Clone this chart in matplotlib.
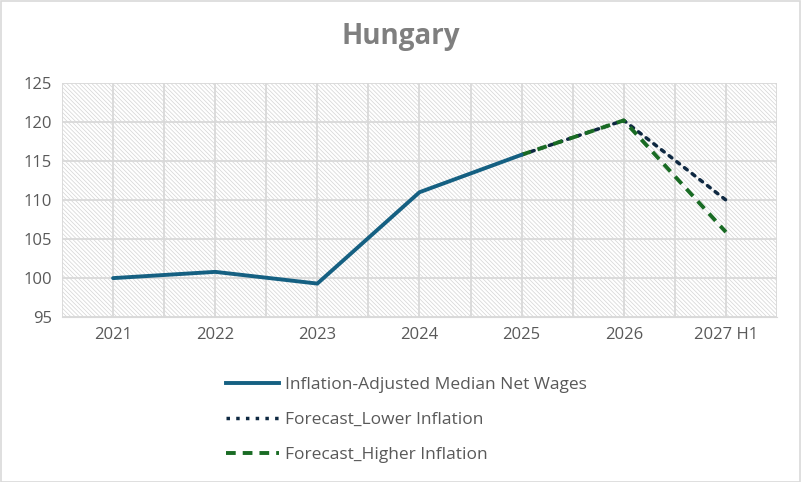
import numpy as np
import matplotlib.pyplot as plt
from matplotlib.lines import Line2D

plt.rcParams['font.family'] = ['Open Sans', 'DejaVu Sans']
plt.rcParams['hatch.color'] = '#d4d4d4'
plt.rcParams['hatch.linewidth'] = 0.5

# data
years = ['2021', '2022', '2023', '2024', '2025', '2026', '2027 H1']
wages = [100.0, 100.8, 99.3, 111.0, 115.8, np.nan, np.nan]
lower = [np.nan, np.nan, np.nan, np.nan, 115.8, 120.2, 110.0]
higher = [np.nan, np.nan, np.nan, np.nan, 115.8, 120.2, 105.9]

txt = '#595959'
fig = plt.figure(figsize=(8.01, 4.82), dpi=100)
ax = fig.add_axes([0.0774, 0.342, 0.8926, 0.486])

x = np.arange(len(years))
ax.patch.set_facecolor('white')
ax.patch.set_hatch('\\' * 8)
ax.patch.set_edgecolor('#d4d4d4')

ax.plot(x, lower, color='#0e2841', lw=2.5, ls=(0, (1, 1.8)), dash_capstyle='round', zorder=3)
ax.plot(x, higher, color='#196b24', lw=2.8, ls=(0, (2.5, 1.8)), zorder=4)
ax.plot(x, wages, color='#156082', lw=2.8, solid_capstyle='round', zorder=5)

ax.set_xlim(-0.5, 6.5)
ax.set_ylim(95, 125)
ax.set_yticks(range(95, 126, 5))
ax.set_xticks(x)
ax.set_xticklabels(years)
ax.set_xticks(np.arange(-0.5, 7, 0.5), minor=True)
ax.grid(True, which='major', axis='y', color='#d9d9d9', lw=1.3)
ax.grid(True, which='both', axis='x', color='#d9d9d9', lw=1.3)
ax.set_axisbelow(True)
ax.tick_params(length=0, labelsize=12, colors=txt, pad=7)
ax.tick_params(which='minor', length=0)
for s in ax.spines.values():
    s.set_visible(False)
ax.spines['bottom'].set_visible(True)
ax.spines['bottom'].set_color('#d9d9d9')

fig.text(0.5, 0.925, 'Hungary', ha='center', va='center', fontsize=20,
         fontweight='bold', color='#7f7f7f')

handles = [Line2D([], [], color='#156082', lw=2.8),
           Line2D([], [], color='#0e2841', lw=2.5, ls=(0, (1, 1.8))),
           Line2D([], [], color='#196b24', lw=2.8, ls=(0, (2.5, 1.8)))]
labels = ['Inflation-Adjusted Median Net Wages', 'Forecast_Lower Inflation',
          'Forecast_Higher Inflation']
leg = fig.legend(handles, labels, loc='upper left', bbox_to_anchor=(0.273, 0.233),
                 frameon=False, fontsize=12.5, handlelength=3.1, handletextpad=0.3,
                 labelspacing=1.1, borderaxespad=0)
for t in leg.get_texts():
    t.set_color(txt)

fig.patches.append(plt.Rectangle((0.001, 0.001), 0.998, 0.997, transform=fig.transFigure,
                                 fill=False, edgecolor='#d9d9d9', lw=1.2))

plt.savefig('out.png', dpi=100)
